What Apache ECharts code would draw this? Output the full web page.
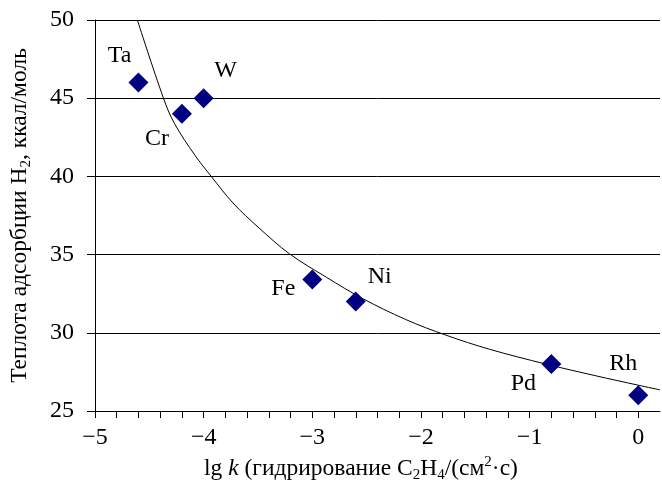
<!DOCTYPE html>
<html>
<head>
<meta charset="utf-8">
<script src="https://cdn.jsdelivr.net/npm/echarts@6/dist/echarts.min.js"></script>
<style>
html,body{margin:0;padding:0;background:#fff;}
#chart{width:662px;height:482px;}
</style>
</head>
<body>
<div id="chart"></div>
<script>
// ---- data ----
const metals = ['Ta', 'Cr', 'W', 'Fe', 'Ni', 'Pd', 'Rh'];
const lgK = [-4.6, -4.2, -4.0, -3.0, -2.6, -0.8, 0.0];
const heat = [46.0, 44.0, 45.0, 33.4, 32.0, 28.0, 26.0];
// trend curve
const curveX = [-4.61, -4.37, -4.27, -4.08, -3.93, -3.73, -3.49, -3.21, -2.87, -2.54, -2.14, -1.77, -1.37, -0.85, -0.39, 0.0, 0.2];
const curveY = [50.0, 45.0, 43.4, 41.35, 40.0, 38.3, 36.7, 35.05, 33.55, 32.2, 30.85, 29.85, 28.95, 28.0, 27.25, 26.65, 26.35];
const yTicks = [25, 30, 35, 40, 45, 50];
const xLabels = [-5, -4, -3, -2, -1, 0];

// ---- styles (label offsets in px) ----
const labelOffsets = {
  Ta: [-19, -27], Cr: [-25, 25], W: [22, -27], Fe: [-29, 9],
  Ni: [24, -25], Pd: [-28, 20], Rh: [-15, -32]
};
const FONT = "'Liberation Serif', 'Times New Roman', serif";
const FS = 24;
const TFS = 23.5;

const chart = echarts.init(document.getElementById('chart'), null, {renderer: 'canvas'});

const scatterData = metals.map((m, i) => ({
  name: m,
  value: [lgK[i], heat[i]],
  label: {
    show: true,
    formatter: m,
    position: 'inside',
    offset: labelOffsets[m],
    align: 'center',
    verticalAlign: 'middle',
    color: '#000',
    opacity: 1,
    fontFamily: FONT,
    fontSize: FS
  }
}));

const curveData = curveX.map((x, i) => [x, curveY[i]]);

const baseRich = {
  n: {fontFamily: FONT, fontSize: TFS, color: '#000', lineHeight: 28, verticalAlign: 'middle'},
  i: {fontFamily: FONT, fontSize: TFS, color: '#000', fontStyle: 'italic', lineHeight: 28, verticalAlign: 'middle'},
  s: {fontFamily: FONT, fontSize: 15, color: '#000', lineHeight: 14, verticalAlign: 'bottom'},
  p: {fontFamily: FONT, fontSize: 15, color: '#000', lineHeight: 15, verticalAlign: 'top'}
};

const fmtNum = v => (v < 0 ? '\u2212' + Math.abs(v) : String(v));

chart.setOption({
  animation: false,
  backgroundColor: '#fff',
  grid: {left: 95, right: 2, top: 20, bottom: 71, containLabel: false, outerBoundsMode: 'none'},
  xAxis: {
    type: 'value',
    min: -5,
    max: 0.2,
    interval: 0.2,
    name: '{n|lg }{i|k}{n| (гидрирование C}{s|2}{n|H}{s|4}{n|/(см}{p|2}{n|·с)}',
    nameLocation: 'middle',
    nameGap: 32,
    nameTextStyle: {fontFamily: FONT, fontSize: TFS, color: '#000', padding: [0, 33, 0, 0], rich: baseRich},
    axisLine: {show: true, onZero: false, lineStyle: {color: '#000', width: 1}},
    axisTick: {show: true, inside: false, length: 7, lineStyle: {color: '#000', width: 1}},
    splitLine: {show: false},
    axisLabel: {
      fontFamily: FONT, fontSize: FS, color: '#000', margin: 15,
      showMaxLabel: false,
      formatter: function (v) {
        const r = Math.round(v);
        if (Math.abs(v - r) < 1e-6 && xLabels.indexOf(r) >= 0) return fmtNum(r);
        return '';
      }
    }
  },
  yAxis: {
    type: 'value',
    min: yTicks[0],
    max: yTicks[yTicks.length - 1],
    interval: 5,
    name: '{n|Теплота адсорбции H}{s|2}{n|, ккал/моль}',
    nameLocation: 'middle',
    nameRotate: 90,
    nameGap: 61,
    nameTextStyle: {fontFamily: FONT, fontSize: TFS, color: '#000', rich: baseRich},
    axisLine: {show: true, onZero: false, lineStyle: {color: '#000', width: 1}},
    axisTick: {show: true, inside: false, length: 8, lineStyle: {color: '#000', width: 1}},
    splitLine: {show: true, lineStyle: {color: '#000', width: 1}},
    axisLabel: {fontFamily: FONT, fontSize: FS, color: '#000', margin: 21, formatter: v => String(v)}
  },
  series: [
    {
      type: 'line',
      data: curveData,
      smooth: 0.35,
      showSymbol: false,
      symbol: 'none',
      clip: true,
      lineStyle: {color: '#000', width: 1},
      silent: true,
      z: 2
    },
    {
      type: 'scatter',
      data: scatterData,
      symbol: 'diamond',
      symbolSize: [20, 20],
      itemStyle: {color: '#000080', opacity: 1},
      z: 3
    }
  ]
});
</script>
</body>
</html>
